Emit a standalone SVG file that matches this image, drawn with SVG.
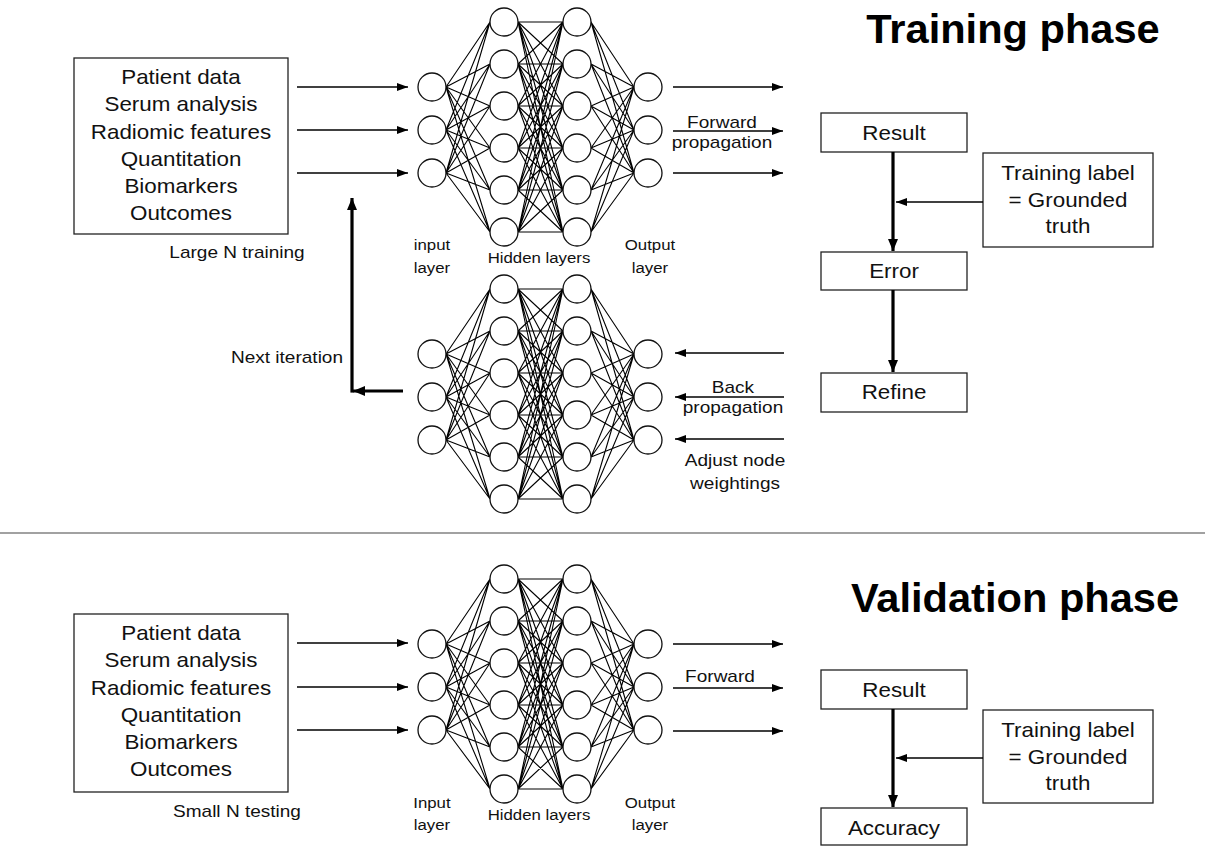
<svg xmlns="http://www.w3.org/2000/svg" xmlns:xlink="http://www.w3.org/1999/xlink" width="1205" height="848" viewBox="0 0 1205 848">
  <style>
    text { font-family: "Liberation Sans", Arial, sans-serif; fill: #111; text-anchor: middle; transform-box: fill-box; transform-origin: center; transform: scaleX(1.12); }
    .main { font-size: 20px; }
    .small { font-size: 17px; }
    .lbl { font-size: 15px; }
    .title { font-size: 40px; font-weight: bold; fill: #000; transform: scaleX(1.04); }
    .box { fill: #fff; stroke: #222; stroke-width: 1.3; }
    .thin { stroke: #000; stroke-width: 1.3; fill: none; marker-end: url(#ah); }
    .thick { stroke: #000; stroke-width: 3.2; fill: none; marker-end: url(#ahb); }
    .edge { stroke: #000; stroke-width: 1.1; fill: none; }
    .unit { fill: #fff; stroke: #111; stroke-width: 1.3; }
  </style>
  <defs>
    <marker id="ah" markerUnits="userSpaceOnUse" markerWidth="12" markerHeight="9" refX="11" refY="4.5" orient="auto">
      <path d="M0,0.5 L11,4.5 L0,8.5 z" fill="#000"/>
    </marker>
    <marker id="ahb" markerUnits="userSpaceOnUse" markerWidth="13" markerHeight="11" refX="12" refY="5.5" orient="auto">
      <path d="M0,0.5 L12,5.5 L0,10.5 z" fill="#000"/>
    </marker>
    <!-- fully connected net: 3 inputs, two hidden layers of 6, 3 outputs; hidden top unit at y=0 -->
    <g id="net">
      <path class="edge" d="
        M446 65L490 0M446 65L490 42M446 65L490 84M446 65L490 126M446 65L490 168M446 65L490 210
        M446 108L490 0M446 108L490 42M446 108L490 84M446 108L490 126M446 108L490 168M446 108L490 210
        M446 151L490 0M446 151L490 42M446 151L490 84M446 151L490 126M446 151L490 168M446 151L490 210
        M518 0L563 0M518 0L563 42M518 0L563 84M518 0L563 126M518 0L563 168M518 0L563 210
        M518 42L563 0M518 42L563 42M518 42L563 84M518 42L563 126M518 42L563 168M518 42L563 210
        M518 84L563 0M518 84L563 42M518 84L563 84M518 84L563 126M518 84L563 168M518 84L563 210
        M518 126L563 0M518 126L563 42M518 126L563 84M518 126L563 126M518 126L563 168M518 126L563 210
        M518 168L563 0M518 168L563 42M518 168L563 84M518 168L563 126M518 168L563 168M518 168L563 210
        M518 210L563 0M518 210L563 42M518 210L563 84M518 210L563 126M518 210L563 168M518 210L563 210
        M591 0L634 65M591 42L634 65M591 84L634 65M591 126L634 65M591 168L634 65M591 210L634 65
        M591 0L634 108M591 42L634 108M591 84L634 108M591 126L634 108M591 168L634 108M591 210L634 108
        M591 0L634 151M591 42L634 151M591 84L634 151M591 126L634 151M591 168L634 151M591 210L634 151"/>
      <circle class="unit" cx="432" cy="65" r="14"/>
      <circle class="unit" cx="432" cy="108" r="14"/>
      <circle class="unit" cx="432" cy="151" r="14"/>
      <circle class="unit" cx="504" cy="0" r="14"/>
      <circle class="unit" cx="504" cy="42" r="14"/>
      <circle class="unit" cx="504" cy="84" r="14"/>
      <circle class="unit" cx="504" cy="126" r="14"/>
      <circle class="unit" cx="504" cy="168" r="14"/>
      <circle class="unit" cx="504" cy="210" r="14"/>
      <circle class="unit" cx="577" cy="0" r="14"/>
      <circle class="unit" cx="577" cy="42" r="14"/>
      <circle class="unit" cx="577" cy="84" r="14"/>
      <circle class="unit" cx="577" cy="126" r="14"/>
      <circle class="unit" cx="577" cy="168" r="14"/>
      <circle class="unit" cx="577" cy="210" r="14"/>
      <circle class="unit" cx="648" cy="65" r="14"/>
      <circle class="unit" cx="648" cy="108" r="14"/>
      <circle class="unit" cx="648" cy="151" r="14"/>
    </g>
  </defs>

  <rect width="1205" height="848" fill="#fff"/>

  <!-- ===== Training phase ===== -->
  <text class="title" x="1013" y="43">Training phase</text>

  <g id="train-input">
    <rect class="box" x="74" y="58" width="214" height="176"/>
    <text class="main" x="181" y="84">Patient data</text>
    <text class="main" x="181" y="111">Serum analysis</text>
    <text class="main" x="181" y="139">Radiomic features</text>
    <text class="main" x="181" y="166">Quantitation</text>
    <text class="main" x="181" y="193">Biomarkers</text>
    <text class="main" x="181" y="220">Outcomes</text>
    <text class="small" x="237" y="258">Large N training</text>
  </g>

  <g id="train-net">
    <use xlink:href="#net" transform="translate(0,22)"/>
    <text class="lbl" x="432" y="250">input</text>
    <text class="lbl" x="432" y="273">layer</text>
    <text class="lbl" x="539" y="263">Hidden layers</text>
    <text class="lbl" x="650" y="250">Output</text>
    <text class="lbl" x="650" y="273">layer</text>
  </g>

  <g id="back-net">
    <use xlink:href="#net" transform="translate(0,289)"/>
  </g>

  <g id="train-result">
    <rect class="box" x="821" y="113" width="146" height="39"/>
    <text class="main" x="894" y="140">Result</text>
  </g>
  <g id="train-label">
    <rect class="box" x="983" y="153" width="170" height="94"/>
    <text class="main" x="1068" y="180">Training label</text>
    <text class="main" x="1068" y="207">= Grounded</text>
    <text class="main" x="1068" y="233">truth</text>
  </g>
  <g id="train-error">
    <rect class="box" x="821" y="252" width="146" height="38"/>
    <text class="main" x="894" y="278">Error</text>
  </g>
  <g id="train-refine">
    <rect class="box" x="821" y="373" width="146" height="39"/>
    <text class="main" x="894" y="399">Refine</text>
  </g>

  <!-- ===== Validation phase ===== -->
  <line x1="0" y1="533" x2="1205" y2="533" stroke="#444" stroke-width="1.2"/>
  <text class="title" x="1015" y="612">Validation phase</text>

  <g id="valid-input">
    <rect class="box" x="74" y="614" width="214" height="178"/>
    <text class="main" x="181" y="640">Patient data</text>
    <text class="main" x="181" y="667">Serum analysis</text>
    <text class="main" x="181" y="695">Radiomic features</text>
    <text class="main" x="181" y="722">Quantitation</text>
    <text class="main" x="181" y="749">Biomarkers</text>
    <text class="main" x="181" y="776">Outcomes</text>
    <text class="small" x="237" y="817">Small N testing</text>
  </g>

  <g id="valid-net">
    <use xlink:href="#net" transform="translate(0,579)"/>
    <text class="lbl" x="432" y="808">Input</text>
    <text class="lbl" x="432" y="830">layer</text>
    <text class="lbl" x="539" y="820">Hidden layers</text>
    <text class="lbl" x="650" y="808">Output</text>
    <text class="lbl" x="650" y="830">layer</text>
  </g>

  <g id="valid-result">
    <rect class="box" x="821" y="670" width="146" height="39"/>
    <text class="main" x="894" y="697">Result</text>
  </g>
  <g id="valid-label">
    <rect class="box" x="983" y="710" width="170" height="93"/>
    <text class="main" x="1068" y="737">Training label</text>
    <text class="main" x="1068" y="764">= Grounded</text>
    <text class="main" x="1068" y="790">truth</text>
  </g>
  <g id="valid-accuracy">
    <rect class="box" x="821" y="808" width="146" height="37"/>
    <text class="main" x="894" y="835">Accuracy</text>
  </g>

  <!-- ===== Connectors ===== -->
  <g id="connectors">
    <!-- training: data into input layer -->
    <line class="thin" x1="297" y1="87" x2="408" y2="87"/>
    <line class="thin" x1="297" y1="130" x2="408" y2="130"/>
    <line class="thin" x1="297" y1="173" x2="408" y2="173"/>
    <!-- forward propagation -->
    <line class="thin" x1="673" y1="87" x2="783" y2="87"/>
    <line class="thin" x1="673" y1="131" x2="783" y2="131"/>
    <line class="thin" x1="673" y1="173" x2="783" y2="173"/>
    <text class="small" x="722" y="128">Forward</text>
    <text class="small" x="722" y="148">propagation</text>
    <!-- result / label / error / refine -->
    <line class="thin" x1="983" y1="202" x2="896" y2="202"/>
    <line class="thick" x1="893" y1="152" x2="893" y2="251"/>
    <line class="thick" x1="893" y1="290" x2="893" y2="372"/>
    <!-- back propagation -->
    <line class="thin" x1="784" y1="353" x2="675" y2="353"/>
    <line class="thin" x1="784" y1="397" x2="675" y2="397"/>
    <line class="thin" x1="784" y1="439" x2="675" y2="439"/>
    <text class="small" x="733" y="393">Back</text>
    <text class="small" x="733" y="413">propagation</text>
    <text class="small" x="735" y="466">Adjust node</text>
    <text class="small" x="735" y="489">weightings</text>
    <!-- next iteration loop -->
    <line class="thick" x1="403" y1="391" x2="353" y2="391"/>
    <line class="thick" x1="352" y1="392.6" x2="352" y2="198"/>
    <text class="small" x="287" y="363">Next iteration</text>

    <!-- validation: data into input layer -->
    <line class="thin" x1="297" y1="643" x2="408" y2="643"/>
    <line class="thin" x1="297" y1="687" x2="408" y2="687"/>
    <line class="thin" x1="297" y1="730" x2="408" y2="730"/>
    <!-- forward -->
    <line class="thin" x1="673" y1="644" x2="783" y2="644"/>
    <line class="thin" x1="673" y1="688" x2="783" y2="688"/>
    <line class="thin" x1="673" y1="731" x2="783" y2="731"/>
    <text class="small" x="720" y="682">Forward</text>
    <!-- result / label / accuracy -->
    <line class="thin" x1="983" y1="758" x2="896" y2="758"/>
    <line class="thick" x1="893" y1="709" x2="893" y2="807"/>
  </g>
</svg>
